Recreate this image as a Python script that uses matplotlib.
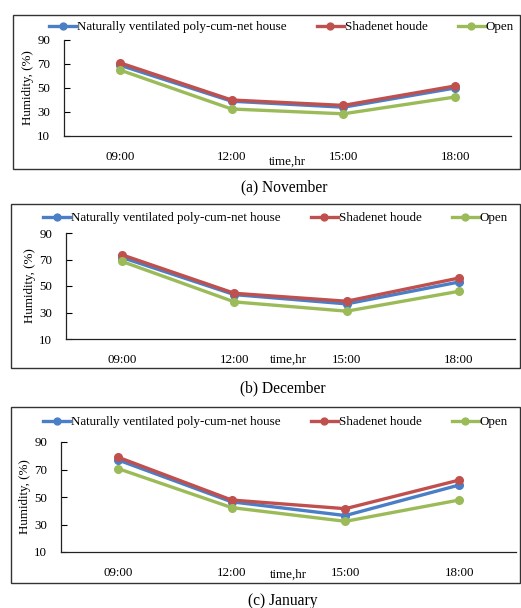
import matplotlib
matplotlib.use("Agg")
import matplotlib.pyplot as plt
from matplotlib.patches import Rectangle

plt.rcParams['font.family'] = ['Liberation Serif', 'DejaVu Serif']

times = ["09:00", "12:00", "15:00", "18:00"]
series_names = ["Naturally ventilated poly-cum-net house", "Shadenet houde", "Open"]
colors = ["#4A7EC6", "#C0504D", "#9BBB59"]

nov_nat = [69, 39, 34, 50]
nov_shade = [71, 40, 35.5, 51.7]
nov_open = [65, 32.5, 28.5, 42.5]

dec_nat = [71.5, 43.5, 36.5, 53]
dec_shade = [73.5, 44.5, 38.5, 56]
dec_open = [68.5, 38, 31, 46]

jan_nat = [77, 46.5, 36.5, 58.7]
jan_shade = [79, 47.8, 41.5, 62.3]
jan_open = [70.7, 42.3, 32.3, 47.8]

yticks = [10, 30, 50, 70, 90]
captions = ["(a) November", "(b) December", "(c) January"]

W, H = 521, 608
fig = plt.figure(figsize=(W / 100, H / 100), dpi=100)
fig.patch.set_facecolor("white")

def fx(x):
    return x / W

def fy(y):
    return 1 - y / H

panels = [
    dict(data=[nov_nat, nov_shade, nov_open], box=(13, 15, 521, 169), ax=(64, 40, 511, 136),
         leg=(49, 27), xlab=(287, 162), cap=(284, 187)),
    dict(data=[dec_nat, dec_shade, dec_open], box=(11, 204, 521, 368), ax=(66, 233, 515, 339),
         leg=(43, 218), xlab=(288, 360), cap=(283, 388)),
    dict(data=[jan_nat, jan_shade, jan_open], box=(11, 407, 521, 583), ax=(61, 442, 516, 552),
         leg=(43, 422), xlab=(288, 575), cap=(283, 601)),
]

FS = 9.4
for i, p in enumerate(panels):
    bx0, by0, bx1, by1 = p["box"]
    fig.patches.append(Rectangle((fx(bx0), fy(by1)), fx(bx1 - bx0) - 0.002, (by1 - by0) / H,
                                 transform=fig.transFigure, fill=False,
                                 edgecolor="#333333", linewidth=1.0))
    ax0, ay0, ax1, ay1 = p["ax"]
    ax = fig.add_axes([fx(ax0), fy(ay1), (ax1 - ax0) / W, (ay1 - ay0) / H])
    ax.set_facecolor("none")
    xs = list(range(len(times)))
    handles = []
    for vals, c, name in zip(p["data"], colors, series_names):
        ln, = ax.plot(xs, vals, color=c, linewidth=2.4, marker="o", markersize=5.5,
                      markerfacecolor=c, markeredgecolor=c, label=name, clip_on=False)
        handles.append(ln)
    ax.set_xlim(-0.5, 3.5)
    ax.set_ylim(10, 90)
    ax.set_yticks(yticks)
    ax.set_xticks(xs)
    ax.set_xticklabels(times, fontsize=FS)
    ax.tick_params(axis="x", length=0, pad=11)
    ax.tick_params(axis="y", direction="in", length=4, width=0.8, pad=10, labelsize=FS)
    for s in ["top", "right"]:
        ax.spines[s].set_visible(False)
    for s in ["left", "bottom"]:
        ax.spines[s].set_color("#222222")
        ax.spines[s].set_linewidth(0.9)
    ax.set_ylabel("Humidity, (%)", fontsize=FS, labelpad=2)
    fig.text(fx(p["xlab"][0]), fy(p["xlab"][1]), "time,hr", fontsize=FS,
             ha="center", va="center")
    fig.text(fx(p["cap"][0]), fy(p["cap"][1]), captions[i], fontsize=11.2,
             ha="center", va="center")
    lx, ly = p["leg"]
    fig.legend(handles=handles, loc="center left", bbox_to_anchor=(fx(lx), fy(ly)),
               ncol=3, frameon=False, fontsize=FS, handlelength=2.1, handletextpad=0.05,
               columnspacing=2.3, borderpad=0, borderaxespad=0, markerscale=0.9)

fig.savefig("out.png", dpi=100, facecolor="white")
